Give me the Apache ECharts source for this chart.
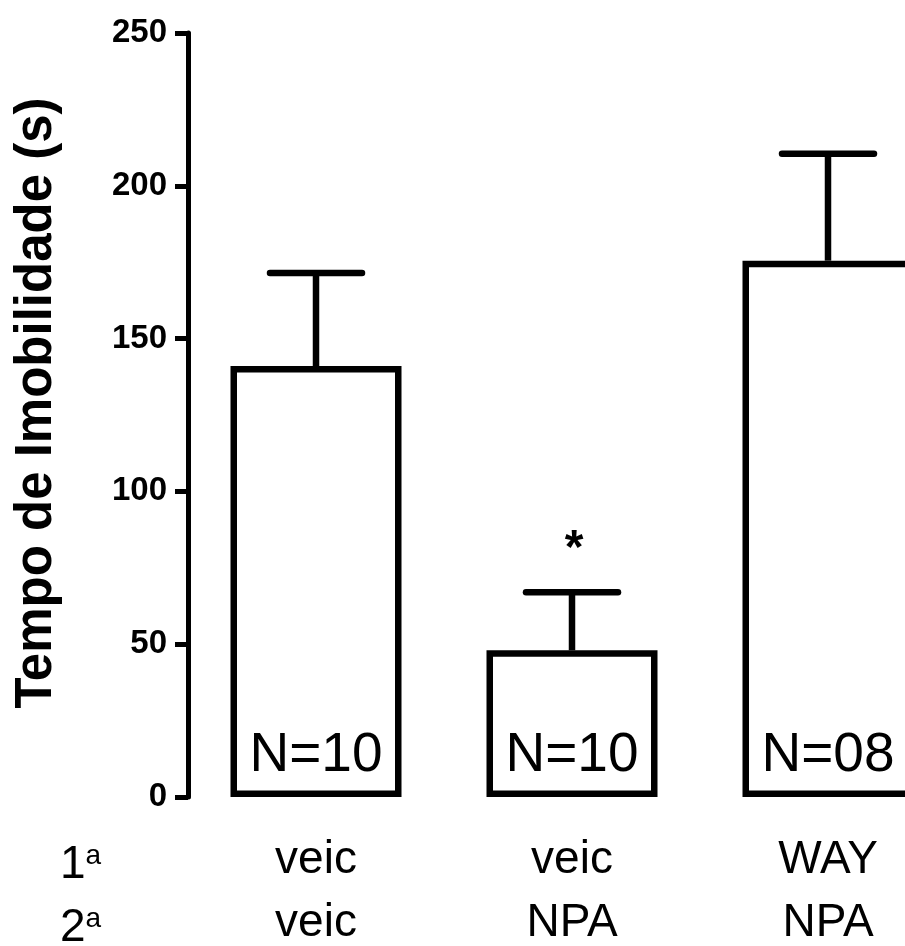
<!DOCTYPE html>
<html>
<head>
<meta charset="utf-8">
<script src="https://cdn.jsdelivr.net/npm/echarts@6/dist/echarts.min.js"></script>
<style>
html,body{margin:0;padding:0;background:#fff;}
#chart{width:905px;height:946px;}
</style>
</head>
<body>
<div id="chart"></div>
<script>
// ---- data ----
var categories = ['veic\nveic', 'veic\nNPA', 'WAY\nNPA'];
var rowHeaders = ['1', '2'];
var means = [141, 48, 175.5];
var errors = [30.5, 19, 35];
var nLabels = ['N=10', 'N=10', 'N=08'];
var stars = ['', '*', ''];
var yTicks = [0, 50, 100, 150, 200, 250];
var yTitle = 'Tempo de Imobilidade (s)';

var FONT = '"Liberation Sans", Arial, sans-serif';
var chart = echarts.init(document.getElementById('chart'));

var errData = means.map(function (m, i) { return [i, m, errors[i], stars[i]]; });

var option = {
  backgroundColor: '#fff',
  animation: false,
  grid: { left: 188, right: -51, top: 33, bottom: 149, containLabel: false, outerBoundsMode: 'none' },
  xAxis: {
    type: 'category',
    data: categories,
    axisLine: { show: false },
    axisTick: { show: false },
    axisLabel: {
      margin: 32,
      fontFamily: FONT,
      fontSize: 46,
      lineHeight: 63,
      color: '#000',
      interval: 0
    }
  },
  yAxis: {
    type: 'value',
    min: yTicks[0],
    max: yTicks[yTicks.length - 1],
    interval: 50,
    name: yTitle,
    nameLocation: 'middle',
    nameGap: 126,
    nameTextStyle: { fontFamily: FONT, fontSize: 51, fontWeight: 'bold', color: '#000', padding: [0, 0, 0, 24] },
    splitLine: { show: false },
    axisLine: { show: true, lineStyle: { color: '#000', width: 5 } },
    axisTick: { show: true, length: 13, lineStyle: { color: '#000', width: 5 } },
    axisLabel: { margin: 21, fontFamily: FONT, fontSize: 33, fontWeight: 'bold', color: '#000' }
  },
  series: [
    {
      type: 'bar',
      data: means,
      barWidth: 171,
      itemStyle: { color: '#fff', borderColor: '#000', borderWidth: 6.5 },
      label: {
        show: true,
        position: 'insideBottom',
        distance: 14,
        formatter: function (p) { return nLabels[p.dataIndex]; },
        fontFamily: FONT,
        fontSize: 55,
        color: '#000'
      },
      z: 2
    },
    {
      type: 'custom',
      data: errData,
      z: 3,
      renderItem: function (params, api) {
        var i = api.value(0);
        var m = api.value(1);
        var e = api.value(2);
        var base = api.coord([i, m]);
        var top = api.coord([i, m + e]);
        var half = 46;
        var st = { stroke: '#000', lineWidth: 6.5, lineCap: 'round' };
        var children = [
          { type: 'line', shape: { x1: base[0], y1: base[1], x2: top[0], y2: top[1] }, style: { stroke: '#000', lineWidth: 6.5 } },
          { type: 'line', shape: { x1: top[0] - half, y1: top[1], x2: top[0] + half, y2: top[1] }, style: st }
        ];
        var s = stars[params.dataIndex];
        if (s) {
          children.push({
            type: 'text',
            style: {
              text: s, x: top[0] + 2, y: top[1] - 42,
              align: 'center', verticalAlign: 'middle',
              font: 'bold 48px ' + FONT, fill: '#000'
            }
          });
        }
        return { type: 'group', children: children };
      }
    }
  ],
  graphic: rowHeaders.map(function (h, k) {
    return {
      type: 'text',
      left: 60,
      top: 842 + k * 63,
      style: {
        text: '{n|' + h + '}{s|a}',
        rich: {
          n: { fontFamily: FONT, fontSize: 46, lineHeight: 46, color: '#000', verticalAlign: 'bottom' },
          s: { fontFamily: FONT, fontSize: 28, lineHeight: 46, color: '#000', verticalAlign: 'top' }
        }
      }
    };
  })
};
chart.setOption(option);
</script>
</body>
</html>
